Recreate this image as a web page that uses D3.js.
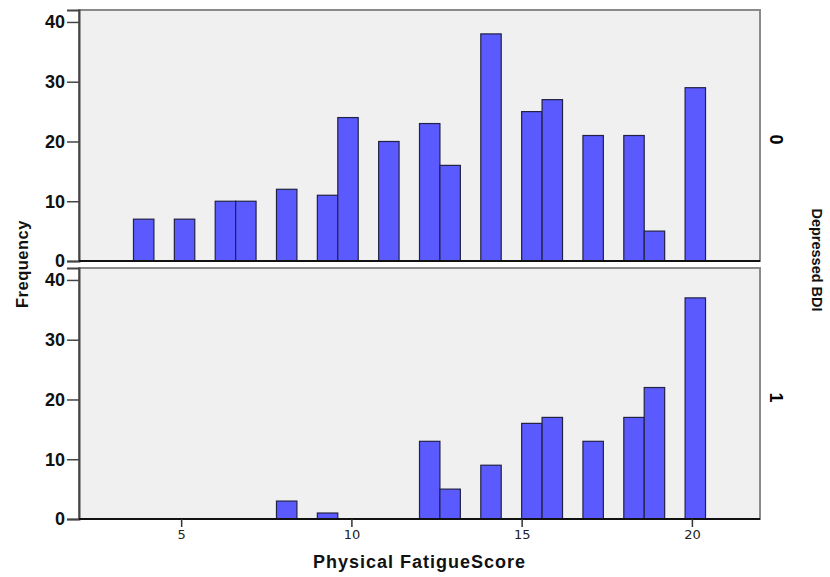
<!DOCTYPE html>
<html>
<head>
<meta charset="utf-8">
<script src="https://cdn.jsdelivr.net/npm/d3@7"></script>
<style>
  body { margin: 0; background: #fff; }
  text { font-family: "Liberation Sans", Arial, sans-serif; }
</style>
</head>
<body>
<div id="chart"></div>
<script>
// bins: lower edge of each 0.6 wide bin of Physical Fatigue Score
const binWidth = 0.6
const binsTop = [3.6, 4.8, 6.0, 6.6, 7.8, 9.0, 9.6, 10.8, 12.0, 12.6, 13.8, 15.0, 15.6, 16.8, 18.0, 18.6, 19.8]
const countsTop = [7, 7, 10, 10, 12, 11, 24, 20, 23, 16, 38, 25, 27, 21, 21, 5, 29]
const binsBottom = [7.8, 9.0, 12.0, 12.6, 13.8, 15.0, 15.6, 16.8, 18.0, 18.6, 19.8]
const countsBottom = [3, 1, 13, 5, 9, 16, 17, 13, 17, 22, 37]
const groups = ['0', '1']
const xTicks = [5, 10, 15, 20]
const yTicks = [0, 10, 20, 30, 40]

const width = 830,
  height = 577,
  left = 79,
  right = 760,
  panelTops = [10, 268],
  panelH = 251

let svg = d3.select('#chart')
  .append('svg')
  .attr('width', width)
  .attr('height', height)

const x = d3.scaleLinear()
  .domain([2, 22])
  .range([left, right])

const panels = [
  { bins: binsTop, counts: countsTop },
  { bins: binsBottom, counts: countsBottom }
]

panels.forEach((p, i) => {
  const top = panelTops[i]
  const y = d3.scaleLinear()
    .domain([0, 42])
    .range([top + panelH, top])

  const g = svg.append('g')

  // panel background and frame
  g.append('rect')
    .attr('x', left)
    .attr('y', top)
    .attr('width', right - left)
    .attr('height', panelH)
    .attr('fill', '#f0f0f0')
    .attr('stroke', '#8a8a8a')
    .attr('stroke-width', 2)

  const data = p.bins.map((b, j) => ({ b: b, n: p.counts[j] }))
  g.selectAll('rect.bar')
    .data(data)
    .enter()
    .append('rect')
    .attr('class', 'bar')
    .attr('x', d => x(d.b))
    .attr('y', d => y(d.n))
    .attr('width', d => x(d.b + binWidth) - x(d.b))
    .attr('height', d => y(0) - y(d.n))
    .attr('fill', '#5a5aff')
    .attr('stroke', '#222244')
    .attr('stroke-width', 1.2)

  // left axis
  const yAxis = d3.axisLeft(y).tickValues(yTicks).tickSize(12).tickPadding(2)
  const ya = g.append('g')
    .attr('transform', `translate(${left},0)`)
    .call(yAxis)
  ya.select('.domain').attr('stroke', '#444').attr('stroke-width', 2)
  ya.selectAll('.tick line').attr('stroke', '#444').attr('stroke-width', 1.5)
  ya.selectAll('.tick text')
    .style('font-size', '18px')
    .style('font-weight', 'bold')
    .style('font-family', '"Liberation Sans", Arial, sans-serif')
    .attr('fill', '#111')

  // baseline
  g.append('line')
    .attr('x1', left).attr('x2', right)
    .attr('y1', y(0)).attr('y2', y(0))
    .attr('stroke', '#111')
    .attr('stroke-width', 2)

  // strip label
  g.append('text')
    .attr('transform', `translate(776,${top + panelH / 2 + 4}) rotate(90)`)
    .attr('text-anchor', 'middle')
    .attr('dy', '0.35em')
    .style('font-size', '18px')
    .style('font-weight', 'bold')
    .text(groups[i])
})

// bottom axis
const xAxis = d3.axisBottom(x).tickValues(xTicks).tickSize(8).tickPadding(3)
const xa = svg.append('g')
  .attr('transform', `translate(0,${panelTops[1] + panelH})`)
  .call(xAxis)
xa.select('.domain').remove()
xa.selectAll('.tick line').attr('stroke', '#333').attr('stroke-width', 1.5)
xa.selectAll('.tick text')
  .style('font-size', '13px')
  .style('font-family', '"DejaVu Sans", sans-serif')
  .attr('fill', '#222')

svg.append('text')
  .attr('x', (left + right) / 2)
  .attr('y', 568)
  .attr('text-anchor', 'middle')
  .style('font-size', '18px')
  .style('letter-spacing', '1px')
  .style('font-weight', 'bold')
  .attr('fill', '#111')
  .text('Physical FatigueScore')

svg.append('text')
  .attr('transform', 'translate(22,264) rotate(-90)')
  .attr('text-anchor', 'middle')
  .attr('dy', '0.35em')
  .style('font-size', '16.5px')
  .style('letter-spacing', '0.5px')
  .style('font-weight', 'bold')
  .attr('fill', '#111')
  .text('Frequency')

svg.append('text')
  .attr('transform', 'translate(817,260) rotate(90)')
  .attr('text-anchor', 'middle')
  .attr('dy', '0.35em')
  .style('font-size', '14.5px')
  .style('font-weight', 'bold')
  .attr('fill', '#111')
  .text('Depressed BDI')
</script>
</body>
</html>
